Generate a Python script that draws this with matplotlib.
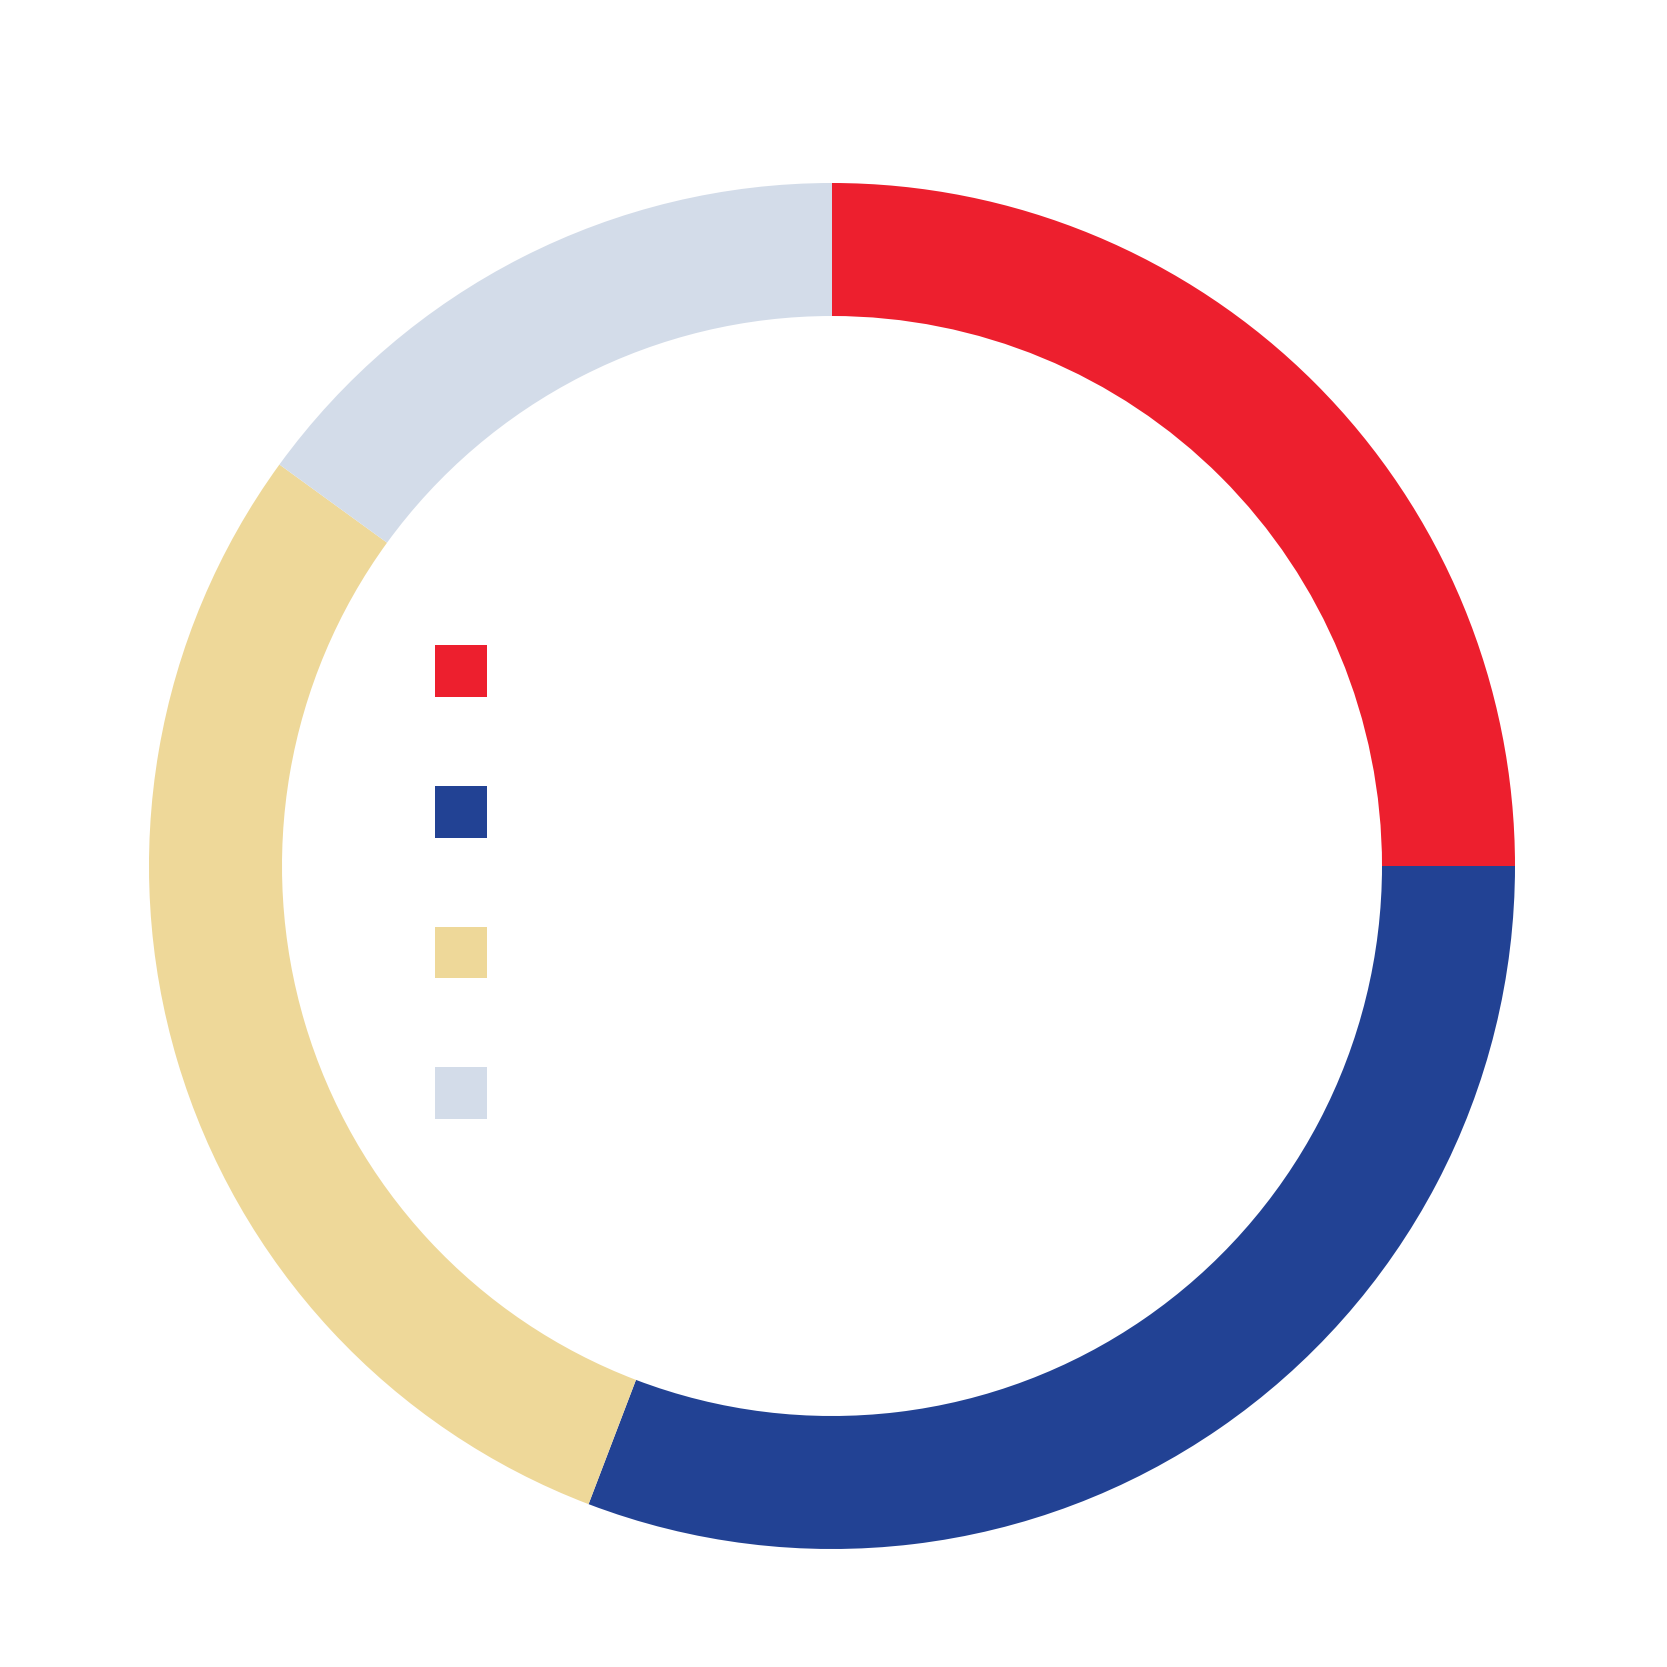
import matplotlib
matplotlib.use("Agg")
import matplotlib.pyplot as plt
from matplotlib.patches import Patch

categories = ["Category A", "Category B", "Category C", "Category D"]
values = [25.0, 30.8, 29.2, 15.0]
colors = ["#ED1F2E", "#224294", "#EED899", "#D3DCE9"]

fig = plt.figure(figsize=(16.67, 16.67), dpi=100)
ax = fig.add_axes([149/1667, (1667-1549)/1667, 1366/1667, 1366/1667])
ax.pie(values, colors=colors, startangle=90, counterclock=False, radius=1.0,
       wedgeprops=dict(width=133/683, linewidth=0))
ax.set_xlim(-1, 1)
ax.set_ylim(-1, 1)
ax.set_aspect("equal")
ax.axis("off")

fs = 18.7
handles = [Patch(facecolor=c, edgecolor="none") for c in colors]
fig.legend(handles, categories, loc="upper left",
           bbox_to_anchor=(435/1667, 1-645/1667), frameon=False,
           borderpad=0, borderaxespad=0, fontsize=fs, handlelength=2.0,
           handleheight=2.7, labelspacing=3.42, handletextpad=0.8,
           labelcolor="white")

fig.savefig("out.png", dpi=100, facecolor="white")
